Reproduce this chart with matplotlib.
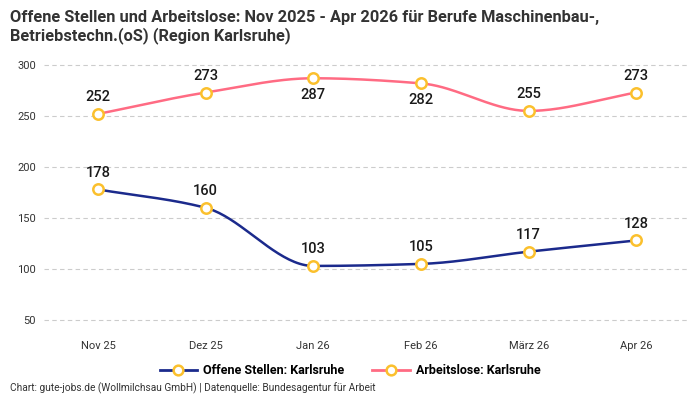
import numpy as np
import matplotlib
matplotlib.use("Agg")
import matplotlib.pyplot as plt
from matplotlib.lines import Line2D

plt.rcParams['font.family'] = ['Roboto', 'DejaVu Sans']

months = ["Nov 25", "Dez 25", "Jan 26", "Feb 26", "März 26", "Apr 26"]
offene = [178, 160, 103, 105, 117, 128]
arbeitslose = [252, 273, 287, 282, 255, 273]
yticks = [50, 100, 150, 200, 250, 300]

title = ("Offene Stellen und Arbeitslose: Nov 2025 - Apr 2026 für Berufe Maschinenbau-,\n"
         "Betriebstechn.(oS) (Region Karlsruhe)")
footer = "Chart: gute-jobs.de (Wollmilchsau GmbH) | Datenquelle: Bundesagentur für Arbeit"

blue = "#1b2a8c"
pink = "#ff6b83"
marker_edge = "#fbc02d"


def pchip(x, y, n=40):
    x = np.asarray(x, float)
    y = np.asarray(y, float)
    h = np.diff(x)
    d = np.diff(y) / h
    m = np.zeros_like(y)
    m[0], m[-1] = d[0], d[-1]
    for i in range(1, len(y) - 1):
        if d[i - 1] * d[i] <= 0:
            m[i] = 0
        else:
            w1 = 2 * h[i] + h[i - 1]
            w2 = h[i] + 2 * h[i - 1]
            m[i] = (w1 + w2) / (w1 / d[i - 1] + w2 / d[i])
    xs, ys = [], []
    for i in range(len(x) - 1):
        t = np.linspace(0, 1, n, endpoint=(i == len(x) - 2))
        h00 = 2 * t**3 - 3 * t**2 + 1
        h10 = t**3 - 2 * t**2 + t
        h01 = -2 * t**3 + 3 * t**2
        h11 = t**3 - t**2
        xs.append(x[i] + t * h[i])
        ys.append(h00 * y[i] + h10 * h[i] * m[i] + h01 * y[i + 1] + h11 * h[i] * m[i + 1])
    return np.concatenate(xs), np.concatenate(ys)


fig = plt.figure(figsize=(7, 4), dpi=100)
ax = fig.add_axes([0.063, 0.1745, 0.923, 0.6885])
x = np.arange(len(months))

for vals, col in [(offene, blue), (arbeitslose, pink)]:
    sx, sy = pchip(x, vals)
    ax.plot(sx, sy, color=col, lw=1.8, zorder=3)
    ax.plot(x, vals, ls='none', marker='o', ms=7.5, mfc='white', mec=marker_edge, mew=1.8, zorder=4)

for i, v in enumerate(offene):
    ax.annotate(str(v), (x[i], v), xytext=(0, 7), textcoords='offset points',
                ha='center', va='bottom', fontsize=10.5, color='#1a1a1a', fontweight='medium')

red_off = [7, 7, -7, -7, 7, 7]
for i, v in enumerate(arbeitslose):
    o = red_off[i]
    ax.annotate(str(v), (x[i], v), xytext=(0, o), textcoords='offset points',
                ha='center', va='bottom' if o > 0 else 'top', fontsize=10.5,
                color='#1a1a1a', fontweight='medium')

ax.set_xlim(-0.5, 5.5)
ax.set_ylim(40, 310)
ax.set_yticks(yticks)
ax.set_xticks(x)
ax.set_xticklabels(months)
ax.tick_params(axis='both', length=0, labelsize=8, colors='#333333')
ax.tick_params(axis='x', pad=8)
ax.tick_params(axis='y', pad=6)
ax.grid(axis='y', color='#cccccc', ls=(0, (4, 3)), lw=0.8)
for s in ax.spines.values():
    s.set_visible(False)

fig.text(0.014, 0.975, title, ha='left', va='top', fontsize=11.8, fontweight='bold',
         color='#333333', linespacing=1.15)
fig.text(0.014, 0.016, footer, ha='left', va='bottom', fontsize=7.3, color='#333333')

handles = [Line2D([0], [0], color=blue, lw=2, marker='o', ms=7, mfc='white', mec=marker_edge, mew=1.8),
           Line2D([0], [0], color=pink, lw=2, marker='o', ms=7, mfc='white', mec=marker_edge, mew=1.8)]
fig.legend(handles, ["Offene Stellen: Karlsruhe", "Arbeitslose: Karlsruhe"],
           loc='center', bbox_to_anchor=(0.5, 0.0725), ncol=2, frameon=False,
           prop={'size': 9, 'weight': 'bold'}, handlelength=3, columnspacing=2.2, handletextpad=0.5)

fig.savefig("out.png", dpi=100)
